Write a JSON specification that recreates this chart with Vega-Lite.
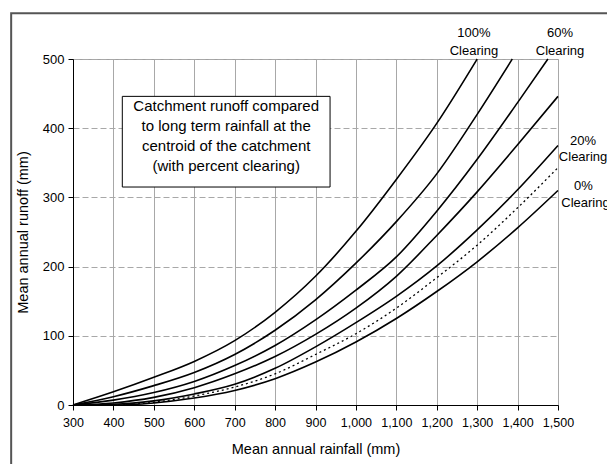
{
  "$schema": "https://vega.github.io/schema/vega-lite/v6.json",
  "width": 485,
  "height": 346,
  "autosize": {"type": "none"},
  "padding": {"left": 73, "top": 59, "right": 49, "bottom": 59},
  "background": "white",
  "config": {
    "font": "Liberation Sans",
    "view": {"stroke": "#a0a0a0", "strokeWidth": 1},
    "axis": {
      "labelFont": "Liberation Sans",
      "titleFont": "Liberation Sans",
      "labelFontSize": 13,
      "titleFontSize": 14.5,
      "titleFontWeight": "normal",
      "labelColor": "#000",
      "titleColor": "#000",
      "domainColor": "#000",
      "tickColor": "#000",
      "tickSize": 5,
      "gridColor": "#a8a8a8",
      "gridOpacity": 1,
      "labelOverlap": false,
      "labelFlush": false
    }
  },
  "datasets": {
    "curves": [
      {"s": "100%", "x": 300, "y": 0}, {"s": "100%", "x": 400, "y": 19}, {"s": "100%", "x": 500, "y": 40}, {"s": "100%", "x": 600, "y": 63}, {"s": "100%", "x": 700, "y": 93}, {"s": "100%", "x": 800, "y": 134}, {"s": "100%", "x": 900, "y": 186}, {"s": "100%", "x": 1000, "y": 251}, {"s": "100%", "x": 1100, "y": 326}, {"s": "100%", "x": 1200, "y": 407}, {"s": "100%", "x": 1300, "y": 500},
      {"s": "80%", "x": 300, "y": 0}, {"s": "80%", "x": 400, "y": 12}, {"s": "80%", "x": 500, "y": 28}, {"s": "80%", "x": 600, "y": 47}, {"s": "80%", "x": 700, "y": 73}, {"s": "80%", "x": 800, "y": 108}, {"s": "80%", "x": 900, "y": 152}, {"s": "80%", "x": 1000, "y": 205}, {"s": "80%", "x": 1100, "y": 265}, {"s": "80%", "x": 1200, "y": 334}, {"s": "80%", "x": 1300, "y": 420}, {"s": "80%", "x": 1387, "y": 500},
      {"s": "60%", "x": 300, "y": 0}, {"s": "60%", "x": 400, "y": 7}, {"s": "60%", "x": 500, "y": 18}, {"s": "60%", "x": 600, "y": 34}, {"s": "60%", "x": 700, "y": 57}, {"s": "60%", "x": 800, "y": 86}, {"s": "60%", "x": 900, "y": 123}, {"s": "60%", "x": 1000, "y": 166}, {"s": "60%", "x": 1100, "y": 214}, {"s": "60%", "x": 1200, "y": 280}, {"s": "60%", "x": 1300, "y": 355}, {"s": "60%", "x": 1400, "y": 437}, {"s": "60%", "x": 1475, "y": 500},
      {"s": "40%", "x": 300, "y": 0}, {"s": "40%", "x": 400, "y": 3}, {"s": "40%", "x": 500, "y": 11}, {"s": "40%", "x": 600, "y": 25}, {"s": "40%", "x": 700, "y": 45}, {"s": "40%", "x": 800, "y": 70}, {"s": "40%", "x": 900, "y": 102}, {"s": "40%", "x": 1000, "y": 140}, {"s": "40%", "x": 1100, "y": 186}, {"s": "40%", "x": 1200, "y": 245}, {"s": "40%", "x": 1300, "y": 308}, {"s": "40%", "x": 1400, "y": 376}, {"s": "40%", "x": 1500, "y": 446},
      {"s": "20%", "x": 300, "y": 0}, {"s": "20%", "x": 400, "y": 1}, {"s": "20%", "x": 500, "y": 6}, {"s": "20%", "x": 600, "y": 16}, {"s": "20%", "x": 700, "y": 30}, {"s": "20%", "x": 800, "y": 53}, {"s": "20%", "x": 900, "y": 84}, {"s": "20%", "x": 1000, "y": 119}, {"s": "20%", "x": 1100, "y": 157}, {"s": "20%", "x": 1200, "y": 201}, {"s": "20%", "x": 1300, "y": 253}, {"s": "20%", "x": 1400, "y": 311}, {"s": "20%", "x": 1500, "y": 375},
      {"s": "0%", "x": 300, "y": 0}, {"s": "0%", "x": 400, "y": 0}, {"s": "0%", "x": 500, "y": 3}, {"s": "0%", "x": 600, "y": 10}, {"s": "0%", "x": 700, "y": 21}, {"s": "0%", "x": 800, "y": 38}, {"s": "0%", "x": 900, "y": 62}, {"s": "0%", "x": 1000, "y": 91}, {"s": "0%", "x": 1100, "y": 125}, {"s": "0%", "x": 1200, "y": 164}, {"s": "0%", "x": 1300, "y": 207}, {"s": "0%", "x": 1400, "y": 256}, {"s": "0%", "x": 1500, "y": 310}
    ],
    "dotted": [
      {"x": 300, "y": 0}, {"x": 400, "y": 0}, {"x": 500, "y": 4}, {"x": 600, "y": 13}, {"x": 700, "y": 26}, {"x": 800, "y": 45}, {"x": 900, "y": 73}, {"x": 1000, "y": 103}, {"x": 1100, "y": 140}, {"x": 1200, "y": 184}, {"x": 1300, "y": 231}, {"x": 1400, "y": 285}, {"x": 1500, "y": 343}
    ],
    "labels": [
      {"x": 1292, "y": 537, "t": "100%"}, {"x": 1292, "y": 512, "t": "Clearing"},
      {"x": 1505, "y": 537, "t": "60%"}, {"x": 1505, "y": 512, "t": "Clearing"},
      {"x": 1562, "y": 382, "t": "20%"}, {"x": 1562, "y": 359, "t": "Clearing"},
      {"x": 1563, "y": 317, "t": "0%"}, {"x": 1568, "y": 292, "t": "Clearing"}
    ],
    "boxtext": [
      {"x": 679, "y": 432, "t": "Catchment runoff compared"},
      {"x": 679, "y": 403, "t": "to long term rainfall at the"},
      {"x": 679, "y": 374, "t": "centroid of the catchment"},
      {"x": 679, "y": 345, "t": "(with percent clearing)"}
    ],
    "box": [{"x": 422, "x2": 936, "y": 446, "y2": 315}],
    "frame": [{"x": 147, "x2": 1800, "y": 566, "y2": -200}]
  },
  "layer": [
    {
      "data": {"name": "curves"},
      "mark": {"type": "line", "color": "#000", "strokeWidth": 1.6, "interpolate": "monotone"},
      "encoding": {
        "x": {"field": "x", "type": "quantitative", "scale": {"domain": [300, 1500], "nice": false, "zero": false},
              "axis": {"title": "Mean annual rainfall (mm)", "values": [300, 400, 500, 600, 700, 800, 900, 1000, 1100, 1200, 1300, 1400, 1500], "format": ",.0f", "labelFontSize": 12.5, "labelPadding": 6, "titlePadding": 14, "gridDash": []}},
        "y": {"field": "y", "type": "quantitative", "scale": {"domain": [0, 500], "nice": false},
              "axis": {"title": "Mean annual runoff (mm)", "values": [0, 100, 200, 300, 400, 500], "format": ",.0f", "labelPadding": 4, "titlePadding": 12, "gridDash": [6, 3]}},
        "detail": {"field": "s"}
      }
    },
    {
      "data": {"name": "dotted"},
      "mark": {"type": "line", "color": "#000", "strokeWidth": 1.3, "strokeDash": [2, 3], "interpolate": "monotone"},
      "encoding": {
        "x": {"field": "x", "type": "quantitative", "scale": {"domain": [300, 1500], "nice": false, "zero": false}},
        "y": {"field": "y", "type": "quantitative", "scale": {"domain": [0, 500], "nice": false}}
      }
    },
    {
      "data": {"name": "frame"},
      "mark": {"type": "rect", "fill": null, "fillOpacity": 0, "stroke": "#555", "strokeWidth": 2, "clip": false},
      "encoding": {
        "x": {"field": "x", "type": "quantitative", "scale": {"domain": [300, 1500], "nice": false, "zero": false}},
        "x2": {"field": "x2"},
        "y": {"field": "y", "type": "quantitative", "scale": {"domain": [0, 500], "nice": false}},
        "y2": {"field": "y2"}
      }
    },
    {
      "data": {"name": "box"},
      "mark": {"type": "rect", "fill": "white", "stroke": "#000", "strokeWidth": 1},
      "encoding": {
        "x": {"field": "x", "type": "quantitative", "scale": {"domain": [300, 1500], "nice": false, "zero": false}},
        "x2": {"field": "x2"},
        "y": {"field": "y", "type": "quantitative", "scale": {"domain": [0, 500], "nice": false}},
        "y2": {"field": "y2"}
      }
    },
    {
      "data": {"name": "boxtext"},
      "mark": {"type": "text", "font": "Liberation Sans", "fontSize": 15, "align": "center", "baseline": "middle", "color": "#000"},
      "encoding": {
        "x": {"field": "x", "type": "quantitative", "scale": {"domain": [300, 1500], "nice": false, "zero": false}},
        "y": {"field": "y", "type": "quantitative", "scale": {"domain": [0, 500], "nice": false}},
        "text": {"field": "t"}
      }
    },
    {
      "data": {"name": "labels"},
      "mark": {"type": "text", "font": "Liberation Sans", "fontSize": 13, "align": "center", "baseline": "middle", "color": "#000"},
      "encoding": {
        "x": {"field": "x", "type": "quantitative", "scale": {"domain": [300, 1500], "nice": false, "zero": false}},
        "y": {"field": "y", "type": "quantitative", "scale": {"domain": [0, 500], "nice": false}},
        "text": {"field": "t"}
      }
    }
  ]
}
